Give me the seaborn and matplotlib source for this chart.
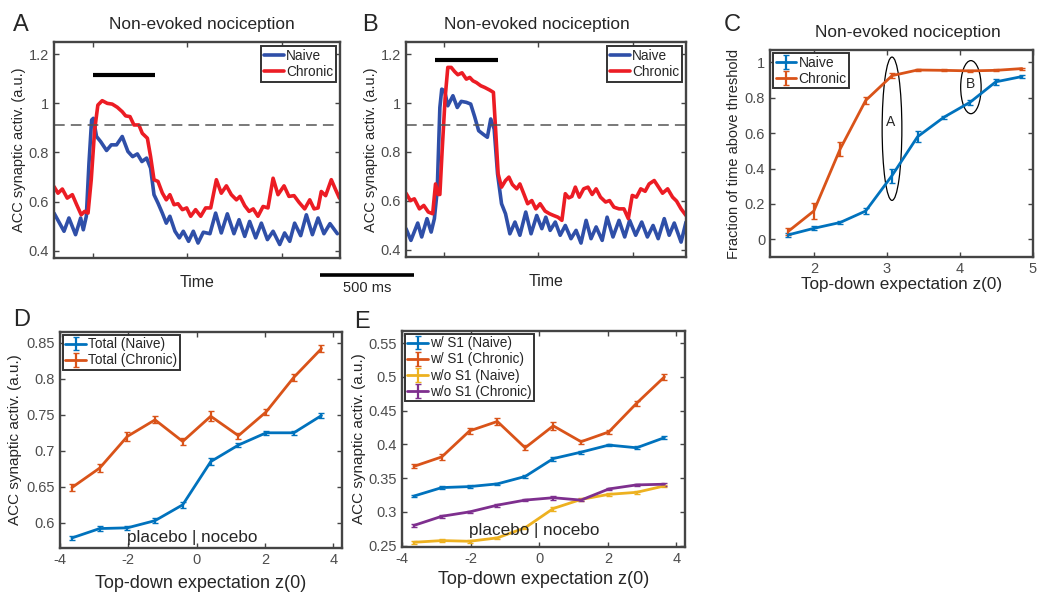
import matplotlib
matplotlib.use("Agg")
import matplotlib.pyplot as plt
import matplotlib.transforms as mtransforms
from matplotlib.patches import Ellipse
import seaborn as sns

# --- Panel A traces (time in ms, stimulus onset at 0) ---
A_NAIVE_T = [-206, -153, -127, -92, -65, -51, -35, -21, -7, 2, 19, 41, 72, 97, 125, 155, 185, 210, 235, 259,
             284, 305, 323, 344, 367, 388, 407, 434, 457, 478, 506, 531, 556, 584, 619, 649, 679, 711, 746, 773,
             803, 829, 861, 891, 923, 953, 988, 1014, 1041, 1067, 1099, 1129, 1161, 1191, 1222, 1254, 1293]
A_NAIVE_V = [0.553, 0.479, 0.533, 0.465, 0.533, 0.485, 0.540, 0.756, 0.932, 0.939, 0.865, 0.844, 0.808, 0.831,
             0.831, 0.865, 0.804, 0.783, 0.794, 0.763, 0.777, 0.736, 0.628, 0.594, 0.553, 0.512, 0.540, 0.479,
             0.452, 0.479, 0.438, 0.479, 0.431, 0.475, 0.469, 0.553, 0.472, 0.550, 0.469, 0.526, 0.458, 0.519,
             0.452, 0.512, 0.445, 0.479, 0.425, 0.472, 0.438, 0.512, 0.461, 0.546, 0.465, 0.533, 0.469, 0.510, 0.469]
A_CHRONIC_T = [-206, -185, -162, -136, -109, -86, -62, -44, -26, -9, 9, 26, 49, 76, 102, 129, 155, 173, 196, 217,
               243, 261, 288, 305, 323, 344, 367, 388, 407, 429, 450, 473, 496, 517, 543, 570, 596, 623, 653, 679,
               706, 732, 759, 778, 803, 826, 848, 873, 900, 926, 953, 979, 1011, 1037, 1064, 1090, 1120, 1147,
               1170, 1191, 1208, 1231, 1261, 1284, 1304]
A_CHRONIC_V = [0.661, 0.634, 0.651, 0.614, 0.628, 0.587, 0.546, 0.560, 0.553, 0.689, 0.892, 0.993, 1.011, 1.000,
               0.997, 0.984, 0.966, 0.949, 0.946, 0.912, 0.912, 0.878, 0.858, 0.783, 0.689, 0.682, 0.635, 0.607,
               0.628, 0.587, 0.591, 0.567, 0.574, 0.540, 0.567, 0.540, 0.574, 0.574, 0.689, 0.634, 0.664, 0.628,
               0.607, 0.621, 0.583, 0.560, 0.570, 0.540, 0.580, 0.574, 0.695, 0.628, 0.664, 0.621, 0.624, 0.597,
               0.570, 0.607, 0.570, 0.574, 0.641, 0.624, 0.689, 0.648, 0.614]

# --- Panel B traces ---
B_NAIVE_T = [-200, -174, -138, -117, -89, -67, -50, -35, -21, -11, 4, 21, 48, 71, 92, 119, 142, 163, 184, 207,
             230, 248, 266, 284, 305, 326, 349, 376, 402, 433, 461, 491, 518, 539, 562, 589, 615, 642, 672, 699,
             725, 752, 778, 805, 837, 863, 894, 926, 956, 982, 1014, 1046, 1076, 1106, 1133, 1165, 1191, 1218,
             1254, 1280]
B_NAIVE_V = [0.486, 0.438, 0.509, 0.452, 0.527, 0.472, 0.527, 0.642, 0.982, 1.057, 1.050, 0.989, 1.030, 0.982,
             1.007, 1.003, 0.996, 0.944, 0.887, 0.873, 0.860, 0.935, 0.894, 0.710, 0.588, 0.547, 0.465, 0.513,
             0.459, 0.554, 0.465, 0.540, 0.486, 0.533, 0.479, 0.513, 0.459, 0.499, 0.445, 0.479, 0.427, 0.520,
             0.445, 0.493, 0.438, 0.533, 0.452, 0.520, 0.452, 0.520, 0.459, 0.513, 0.452, 0.499, 0.445, 0.527,
             0.459, 0.509, 0.431, 0.513]
B_CHRONIC_T = [-200, -177, -156, -129, -106, -82, -59, -44, -30, -21, -9, 7, 21, 39, 57, 74, 96, 119, 137, 154,
               172, 195, 216, 243, 262, 273, 287, 305, 326, 344, 362, 385, 402, 424, 443, 465, 486, 509, 535, 559,
               580, 603, 624, 642, 660, 677, 695, 716, 739, 762, 784, 805, 828, 855, 876, 899, 926, 952, 975, 996,
               1018, 1041, 1064, 1085, 1112, 1135, 1156, 1183, 1209, 1230, 1254, 1280]
B_CHRONIC_V = [0.631, 0.601, 0.608, 0.567, 0.581, 0.554, 0.547, 0.669, 0.626, 0.626, 0.805, 1.023, 1.146, 1.146,
               1.129, 1.116, 1.124, 1.098, 1.105, 1.091, 1.084, 1.071, 1.064, 1.053, 1.044, 0.901, 0.710, 0.656,
               0.683, 0.697, 0.667, 0.649, 0.669, 0.626, 0.588, 0.601, 0.567, 0.588, 0.558, 0.547, 0.540, 0.533,
               0.520, 0.629, 0.612, 0.618, 0.656, 0.615, 0.649, 0.656, 0.626, 0.649, 0.615, 0.595, 0.601, 0.574,
               0.567, 0.567, 0.527, 0.622, 0.615, 0.649, 0.639, 0.669, 0.683, 0.656, 0.631, 0.649, 0.615, 0.599,
               0.567, 0.540]

THRESHOLD = 0.91
STIM_A = (0, 328, 1.115)
STIM_B = (-46, 284, 1.177)
SCALE_BAR = (1200, 1700)

# --- Panel C ---
C_Z = [1.65, 2.0, 2.36, 2.71, 3.07, 3.42, 3.78, 4.14, 4.49, 4.85]
C_NAIVE = [0.025, 0.062, 0.095, 0.16, 0.36, 0.58, 0.69, 0.775, 0.89, 0.92]
C_NAIVE_ERR = [0.01, 0.012, 0.01, 0.015, 0.04, 0.03, 0.008, 0.015, 0.015, 0.008]
C_CHRONIC = [0.045, 0.16, 0.51, 0.785, 0.925, 0.957, 0.955, 0.952, 0.955, 0.965]
C_CHRONIC_ERR = [0.02, 0.045, 0.04, 0.02, 0.015, 0.006, 0.005, 0.006, 0.005, 0.006]

# --- Panels D / E ---
Z0 = [-3.65, -2.84, -2.03, -1.22, -0.41, 0.41, 1.22, 2.03, 2.84, 3.65]
D_NAIVE = [0.579, 0.592, 0.593, 0.603, 0.625, 0.685, 0.708, 0.725, 0.725, 0.749]
D_NAIVE_ERR = [0.003, 0.003, 0.003, 0.003, 0.004, 0.005, 0.003, 0.003, 0.003, 0.003]
D_CHRONIC = [0.649, 0.676, 0.720, 0.743, 0.713, 0.748, 0.721, 0.754, 0.802, 0.842]
D_CHRONIC_ERR = [0.005, 0.006, 0.006, 0.005, 0.005, 0.007, 0.004, 0.004, 0.005, 0.005]

E_NAIVE_S1 = [0.3235, 0.336, 0.3375, 0.3415, 0.3525, 0.379, 0.3885, 0.399, 0.395, 0.41]
E_CHRONIC_S1 = [0.3675, 0.3815, 0.42, 0.434, 0.395, 0.4275, 0.404, 0.4185, 0.461, 0.50]
E_NAIVE_NOS1 = [0.255, 0.2575, 0.2565, 0.2615, 0.2765, 0.305, 0.3185, 0.326, 0.329, 0.3385]
E_CHRONIC_NOS1 = [0.28, 0.2935, 0.30, 0.31, 0.3175, 0.321, 0.3175, 0.334, 0.34, 0.341]
E_ERR = [0.003, 0.004, 0.005, 0.005, 0.004, 0.006, 0.003, 0.003, 0.004, 0.004]
E_ERR_SMALL = [0.002, 0.002, 0.002, 0.002, 0.002, 0.003, 0.002, 0.002, 0.002, 0.002]

BLUE_TR, RED_TR = "#2f4fa8", "#ec1c24"
M_BLUE, M_ORANGE, M_YELLOW, M_PURPLE = "#0072bd", "#d95319", "#edb120", "#7e2f8e"
YLABEL = "ACC synaptic activ. (a.u.)"
ZLABEL = "Top-down expectation z(0)"

sns.set_theme(style="ticks")
plt.rcParams["font.family"] = ["Liberation Sans", "DejaVu Sans"]
plt.rcParams.update({
    "axes.unicode_minus": False,
    "xtick.direction": "in", "ytick.direction": "in",
    "xtick.top": True, "ytick.right": True,
    "xtick.major.size": 3.5, "ytick.major.size": 3.5,
    "xtick.major.width": 1.0, "ytick.major.width": 1.0,
    "axes.edgecolor": "#444444", "axes.linewidth": 1.7,
    "xtick.color": "#444444", "ytick.color": "#444444",
    "xtick.labelcolor": "#4d4d4d", "ytick.labelcolor": "#4d4d4d",
    "axes.labelcolor": "#262626",
})

W, H = 1050, 602
fig = plt.figure(figsize=(W / 100, H / 100), dpi=100)


def px_axes(left, top, right, bottom):
    return fig.add_axes([left / W, 1 - bottom / H, (right - left) / W, (bottom - top) / H])


def box_legend(ax, loc, size, pad=0.35):
    leg = ax.legend(loc=loc, fontsize=size, frameon=True, fancybox=False, borderpad=0.2,
                    labelspacing=0.15, handlelength=1.5, handletextpad=0.15, borderaxespad=pad)
    leg.get_frame().set_edgecolor("#333333")
    leg.get_frame().set_linewidth(1.4)
    leg.get_frame().set_alpha(1)
    return leg


def trace_panel(ax, nt, nv, ct, cv, stim, xlim):
    sns.lineplot(x=nt, y=nv, ax=ax, color=BLUE_TR, lw=2.6, label="Naive", sort=False, estimator=None)
    sns.lineplot(x=ct, y=cv, ax=ax, color=RED_TR, lw=2.6, label="Chronic", sort=False, estimator=None)
    ax.axhline(THRESHOLD, color="#555555", lw=1.1, ls=(0, (7, 4)))
    ax.plot(stim[:2], [stim[2], stim[2]], color="black", lw=3, solid_capstyle="butt")
    ax.set_xlim(*xlim)
    ax.set_ylim(0.37, 1.25)
    ax.set_xticks([0, 500, 1000])
    ax.set_xticklabels([])
    ax.set_yticks([0.4, 0.6, 0.8, 1.0, 1.2])
    ax.set_yticklabels(["0.4", "0.6", "0.8", "1", "1.2"], fontsize=10.5)
    ax.set_xlabel("Time", fontsize=11.5, labelpad=9)
    ax.set_ylabel(YLABEL, fontsize=10.5, labelpad=2)
    box_legend(ax, "upper right", 9.8, pad=0.3)


# A
axA = px_axes(54, 42, 340, 258)
trace_panel(axA, A_NAIVE_T, A_NAIVE_V, A_CHRONIC_T, A_CHRONIC_V, STIM_A, (-206, 1307))
# B
axB = px_axes(406, 42, 686, 257)
trace_panel(axB, B_NAIVE_T, B_NAIVE_V, B_CHRONIC_T, B_CHRONIC_V, STIM_B, (-200, 1280))

# scale bar under A/B
tr = mtransforms.blended_transform_factory(axA.transData, fig.transFigure)
axA.plot(SCALE_BAR, [1 - 275 / H] * 2, color="black", lw=2.6, transform=tr, clip_on=False,
         solid_capstyle="butt")
axA.text(sum(SCALE_BAR) / 2, 1 - 288 / H, "500 ms", transform=tr, ha="center", va="center", fontsize=10.5)

# C
axC = px_axes(770, 50, 1033, 257)
axC.errorbar(C_Z, C_NAIVE, yerr=C_NAIVE_ERR, color=M_BLUE, lw=2, capsize=2, elinewidth=1.6, label="Naive")
axC.errorbar(C_Z, C_CHRONIC, yerr=C_CHRONIC_ERR, color=M_ORANGE, lw=2, capsize=2, elinewidth=1.6,
             label="Chronic")
axC.add_patch(Ellipse((3.07, 0.625), 0.27, 0.81, fill=False, ec="black", lw=0.9))
axC.add_patch(Ellipse((4.15, 0.86), 0.28, 0.30, fill=False, ec="black", lw=0.9))
axC.text(3.05, 0.665, "A", ha="center", va="center", fontsize=10)
axC.text(4.15, 0.875, "B", ha="center", va="center", fontsize=10)
axC.set_xlim(1.4, 5.0)
axC.set_ylim(-0.1, 1.07)
axC.set_xticks([2, 3, 4, 5])
axC.set_xticklabels(["2", "3", "4", "5"], fontsize=10.5)
axC.set_yticks([0, 0.2, 0.4, 0.6, 0.8, 1.0])
axC.set_yticklabels(["0", "0.2", "0.4", "0.6", "0.8", "1"], fontsize=10.5)
axC.set_xlabel(ZLABEL, fontsize=12.3, labelpad=1)
axC.set_ylabel("Fraction of time above threshold", fontsize=10.5, labelpad=3)
box_legend(axC, "upper left", 10, pad=0.2)

# D
axD = px_axes(60, 332, 342, 548)
axD.errorbar(Z0, D_NAIVE, yerr=D_NAIVE_ERR, color=M_BLUE, lw=2, capsize=2, elinewidth=1.6, label="Total (Naive)")
axD.errorbar(Z0, D_CHRONIC, yerr=D_CHRONIC_ERR, color=M_ORANGE, lw=2, capsize=2, elinewidth=1.6,
             label="Total (Chronic)")
axD.text(-0.12, 0.58, "placebo | nocebo", ha="center", va="center", fontsize=12.3)
axD.set_xlim(-4, 4.25)
axD.set_ylim(0.565, 0.865)
axD.set_xticks([-4, -2, 0, 2, 4])
axD.set_xticklabels(["-4", "-2", "0", "2", "4"], fontsize=10.5)
axD.set_yticks([0.6, 0.65, 0.7, 0.75, 0.8, 0.85])
axD.set_yticklabels(["0.6", "0.65", "0.7", "0.75", "0.8", "0.85"], fontsize=10.5)
axD.set_xlabel(ZLABEL, fontsize=13, labelpad=6)
axD.set_ylabel(YLABEL, fontsize=11, labelpad=3)
box_legend(axD, "upper left", 9.8, pad=0.2)

# E
axE = px_axes(402, 331, 685, 547)
for vals, err, col, lab in [(E_NAIVE_S1, E_ERR_SMALL, M_BLUE, "w/ S1 (Naive)"),
                            (E_CHRONIC_S1, E_ERR, M_ORANGE, "w/ S1 (Chronic)"),
                            (E_NAIVE_NOS1, E_ERR_SMALL, M_YELLOW, "w/o S1 (Naive)"),
                            (E_CHRONIC_NOS1, E_ERR_SMALL, M_PURPLE, "w/o S1 (Chronic)")]:
    axE.errorbar(Z0, vals, yerr=err, color=col, lw=2, capsize=2, elinewidth=1.6, label=lab)
axE.text(-0.15, 0.272, "placebo | nocebo", ha="center", va="center", fontsize=12.3)
axE.set_xlim(-4, 4.25)
axE.set_ylim(0.248, 0.568)
axE.set_xticks([-4, -2, 0, 2, 4])
axE.set_xticklabels(["-4", "-2", "0", "2", "4"], fontsize=10.5)
axE.set_yticks([0.25, 0.3, 0.35, 0.4, 0.45, 0.5, 0.55])
axE.set_yticklabels(["0.25", "0.3", "0.35", "0.4", "0.45", "0.5", "0.55"], fontsize=10.5)
axE.set_xlabel(ZLABEL, fontsize=13, labelpad=4)
axE.set_ylabel(YLABEL, fontsize=11, labelpad=2)
box_legend(axE, "upper left", 9.8, pad=0.2)

# titles and panel letters
for cx, cy in [(202, 25), (537, 25), (908, 33)]:
    fig.text(cx / W, 1 - cy / H, "Non-evoked nociception", ha="center", va="center", fontsize=12.4)
for lab, cx, cy in [("A", 21, 25), ("B", 370, 25), ("C", 732, 25), ("D", 22, 320), ("E", 362, 322)]:
    fig.text(cx / W, 1 - cy / H, lab, ha="center", va="center", fontsize=17)

fig.savefig("out.png", dpi=100)
